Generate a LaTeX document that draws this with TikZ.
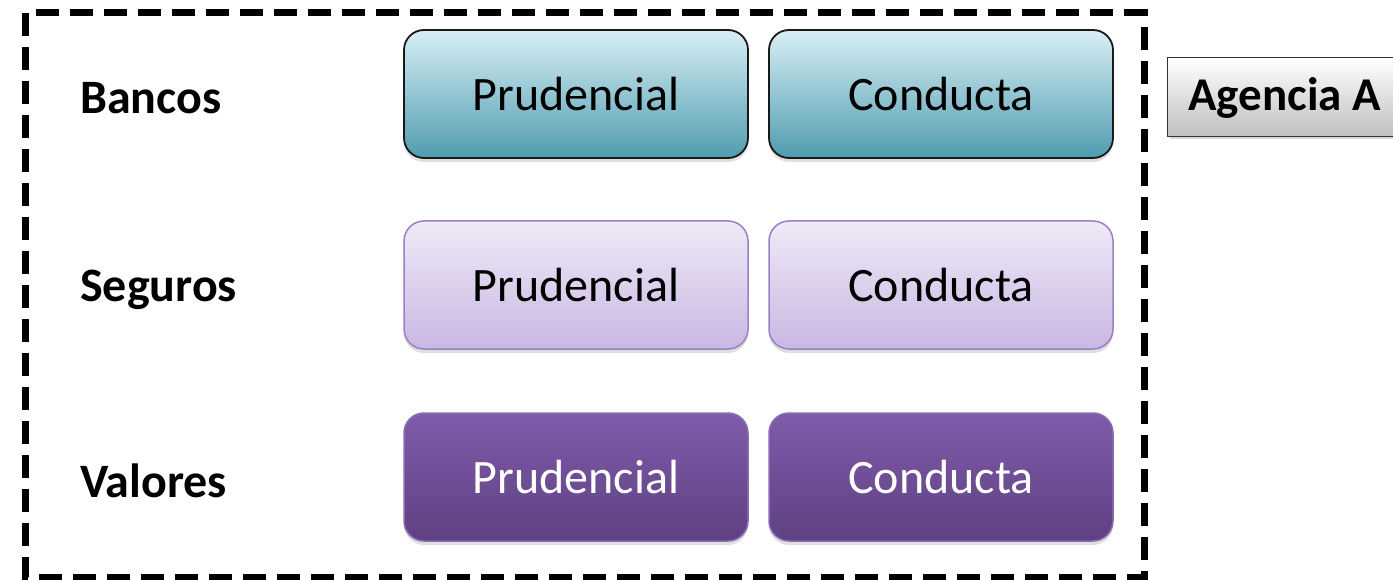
\documentclass[tikz,border=0pt]{standalone}
\usepackage{fontspec}
\setmainfont{Carlito}
\usetikzlibrary{shadows}
\definecolor{bnkTop}{HTML}{D8EFF4}
\definecolor{bnkBot}{HTML}{4F9BB0}
\definecolor{segTop}{HTML}{EFEAF8}
\definecolor{segBot}{HTML}{CAB7E2}
\definecolor{segLine}{HTML}{9A80C4}
\definecolor{valTop}{HTML}{7F5BAA}
\definecolor{valBot}{HTML}{5E4182}
\definecolor{valLine}{HTML}{8A6CB3}
\tikzset{
  cell/.style={rounded corners=20pt, minimum width=344pt, minimum height=128pt,
    font=\fontsize{48}{54}\selectfont, inner sep=0pt,
    drop shadow={shadow xshift=0pt, shadow yshift=-4pt, opacity=0.25}},
  bnk/.style={cell, draw=black!90, line width=1.8pt, top color=bnkTop, bottom color=bnkBot, text=black},
  seg/.style={cell, draw=segLine, line width=1.5pt, top color=segTop, bottom color=segBot, text=black},
  val/.style={cell, draw=valLine, line width=1.5pt, top color=valTop, bottom color=valBot, text=white},
  rowlabel/.style={anchor=west, font=\fontsize{48}{54}\selectfont\bfseries, inner sep=0pt},
  agency/.style={draw=black!80, line width=1.3pt, top color=white, bottom color=black!25,
    minimum width=240pt, minimum height=79pt, inner sep=0pt, anchor=west,
    drop shadow={shadow xshift=2pt, shadow yshift=-3pt, opacity=0.3}},
  frame/.style={draw=black, line width=7pt, dash pattern=on 23pt off 11pt}
}
\begin{document}
\begin{tikzpicture}[x=1pt,y=-1pt]
\useasboundingbox (0,0) rectangle (1393,580);
\draw[frame] (25,13) rectangle (1144,577);
\node[rowlabel] (lb) at (80,98) {Bancos};
\node[rowlabel] (ls) at (80,290) {Seguros};
\node[rowlabel] (lv) at (80,481) {Valores};
\node[bnk] (bp) at (576,94) {Prudencial};
\node[bnk] (bc) at (941,94) {Conducta};
\node[seg] (sp) at (576,285) {Prudencial};
\node[seg] (sc) at (941,285) {Conducta};
\node[val] (vp) at (576,477) {Prudencial};
\node[val] (vc) at (941,477) {Conducta};
\node[agency] (ag) at (1167,97) {};
\node[anchor=west, font=\fontsize{47}{52}\selectfont\bfseries, inner sep=0pt] (agt) at (1188,98) {Agencia A};
\end{tikzpicture}
\end{document}
